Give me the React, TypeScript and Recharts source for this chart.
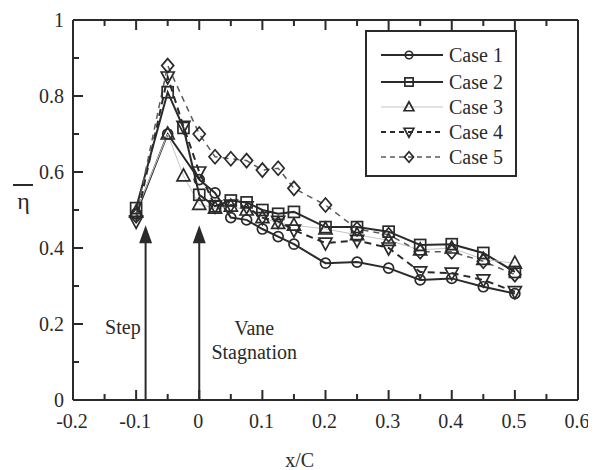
import { LineChart, Line, XAxis, YAxis, Legend, ReferenceLine, ReferenceDot } from 'recharts';

// x/C stations where eta was measured
const xPositions = [-0.1, -0.05, -0.025, 0, 0.025, 0.05, 0.075, 0.1, 0.125, 0.15, 0.2, 0.25, 0.3, 0.35, 0.4, 0.45, 0.5];

// eta-bar for each case (null = no measurement at that station)
const case1 = [0.49, 0.7, null, 0.58, 0.545, 0.48, 0.474, 0.45, 0.43, 0.41, 0.36, 0.363, 0.347, 0.316, 0.32, 0.298, 0.28];
const case2 = [0.505, 0.81, 0.716, 0.54, 0.51, 0.525, 0.52, 0.5, 0.49, 0.495, 0.455, 0.455, 0.443, 0.408, 0.41, 0.387, 0.337];
const case3 = [0.495, 0.7, 0.59, 0.515, 0.505, 0.51, 0.5, 0.48, 0.465, 0.46, 0.45, 0.435, 0.42, 0.395, 0.4, 0.37, 0.36];
const case4 = [0.47, 0.85, 0.72, 0.6, 0.51, 0.513, 0.508, 0.48, 0.47, 0.447, 0.413, 0.42, 0.4, 0.337, 0.334, 0.316, 0.285];
const case5 = [0.485, 0.88, null, 0.7, 0.64, 0.635, 0.63, 0.605, 0.61, 0.557, 0.513, 0.45, 0.435, 0.39, 0.39, 0.365, 0.33];

const caseNames = ['Case 1', 'Case 2', 'Case 3', 'Case 4', 'Case 5'];

const xTicks = [-0.2, -0.15, -0.1, -0.05, 0, 0.05, 0.1, 0.15, 0.2, 0.25, 0.3, 0.35, 0.4, 0.45, 0.5, 0.55, 0.6];
const xTickLabels = ['-0.2', '', '-0.1', '', '0', '', '0.1', '', '0.2', '', '0.3', '', '0.4', '', '0.5', '', '0.6'];
const yTicks = [0, 0.1, 0.2, 0.3, 0.4, 0.5, 0.6, 0.7, 0.8, 0.9, 1];
const yTickLabels = ['0', '', '0.2', '', '0.4', '', '0.6', '', '0.8', '', '1'];

// annotation arrows: x/C location and tip height
const arrowXs = [-0.085, 0];
const arrowTip = 0.46;

const FONT = "'Liberation Serif', Tinos, 'Times New Roman', 'DejaVu Serif', serif";
const INK = '#2a2a2a';
const txt = { fontFamily: FONT, fontSize: 20, fill: INK };

const chartData = xPositions.map((x, i) => ({
  x,
  c1: case1[i],
  c2: case2[i],
  c3: case3[i],
  c4: case4[i],
  c5: case5[i],
}));

type MarkerKind = 'circle' | 'square' | 'up' | 'down' | 'diamond';

function Marker({ kind, cx, cy, s = 1 }: { kind: MarkerKind; cx: number; cy: number; s?: number }) {
  const common = { fill: 'none', stroke: INK, strokeWidth: 1.7 };
  if (kind === 'circle') return <circle cx={cx} cy={cy} r={5 * s} {...common} />;
  if (kind === 'square') return <rect x={cx - 5.5 * s} y={cy - 5.5 * s} width={11 * s} height={11 * s} {...common} />;
  if (kind === 'up')
    return <polygon points={`${cx},${cy - 7 * s} ${cx - 6.5 * s},${cy + 5 * s} ${cx + 6.5 * s},${cy + 5 * s}`} {...common} />;
  if (kind === 'down')
    return <polygon points={`${cx},${cy + 7 * s} ${cx - 6.5 * s},${cy - 5 * s} ${cx + 6.5 * s},${cy - 5 * s}`} {...common} />;
  return <polygon points={`${cx},${cy - 7 * s} ${cx + 6 * s},${cy} ${cx},${cy + 7 * s} ${cx - 6 * s},${cy}`} {...common} />;
}

const makeDot = (kind: MarkerKind) => (p: any) => {
  const key = `${kind}-${p.index}`;
  if (p.cx == null || p.cy == null || p.value == null) return <g key={key} />;
  return <Marker key={key} kind={kind} cx={p.cx} cy={p.cy} />;
};

const seriesStyle = [
  { key: 'c1', kind: 'circle' as MarkerKind, stroke: INK, width: 2, dash: undefined },
  { key: 'c2', kind: 'square' as MarkerKind, stroke: INK, width: 2, dash: undefined },
  { key: 'c3', kind: 'up' as MarkerKind, stroke: '#c4c4c4', width: 1, dash: undefined },
  { key: 'c4', kind: 'down' as MarkerKind, stroke: INK, width: 2, dash: '7 5' },
  { key: 'c5', kind: 'diamond' as MarkerKind, stroke: '#5a5a5a', width: 1.5, dash: '6 5' },
];

const isMajor = (v: number, step: number) => Math.abs(v / step - Math.round(v / step)) < 1e-6;
const findIdx = (arr: number[], v: number) => arr.findIndex((t) => Math.abs(t - v) < 1e-9);

function BottomTick(props: any) {
  const { x, y, payload } = props;
  const i = findIdx(xTicks, payload.value);
  const len = isMajor(payload.value, 0.1) ? 10 : 6;
  return (
    <g>
      <line x1={x} y1={y} x2={x} y2={y - len} stroke={INK} strokeWidth={2} />
      {xTickLabels[i] ? (
        <text x={x - 1} y={y + 28} textAnchor="middle" fontFamily={FONT} style={txt}>
          {xTickLabels[i]}
        </text>
      ) : null}
    </g>
  );
}

function TopTick(props: any) {
  const { x, y, payload } = props;
  const len = isMajor(payload.value, 0.1) ? 10 : 6;
  return <line x1={x} y1={y} x2={x} y2={y + len} stroke={INK} strokeWidth={2} />;
}

function LeftTick(props: any) {
  const { x, y, payload } = props;
  const i = findIdx(yTicks, payload.value);
  const len = isMajor(payload.value, 0.2) ? 10 : 6;
  return (
    <g>
      <line x1={x} y1={y} x2={x + len} y2={y} stroke={INK} strokeWidth={2} />
      {yTickLabels[i] ? (
        <text x={x - 9} y={y + 7} textAnchor="end" fontFamily={FONT} style={txt}>
          {yTickLabels[i]}
        </text>
      ) : null}
    </g>
  );
}

function RightTick(props: any) {
  const { x, y, payload } = props;
  const len = isMajor(payload.value, 0.2) ? 10 : 6;
  return <line x1={x} y1={y} x2={x - len} y2={y} stroke={INK} strokeWidth={2} />;
}

// eta with an overbar, to the left of the y tick labels
function EtaLabel() {
  return (
    <g>
      <line x1={5} y1={177} x2={25} y2={177} stroke={INK} strokeWidth={2} />
      <text x={15.5} y={201} textAnchor="middle" fontFamily={FONT} style={{ ...txt, fontSize: 24 }}>
        η
      </text>
    </g>
  );
}

function XLabel(props: any) {
  const vb = props.viewBox || { x: 0, y: 0, width: 0 };
  return (
    <text x={vb.x + vb.width * 0.449} y={vb.y + 67} textAnchor="middle" fontFamily={FONT} style={txt}>
      x/C
    </text>
  );
}

function LegendBox() {
  const rowsY = [25, 52, 77, 102, 127];
  return (
    <svg width={152} height={147} style={{ display: 'block' }}>
      <rect x={1} y={1} width={150} height={145} fill="#fff" stroke={INK} strokeWidth={2} />
      {seriesStyle.map((s, i) => (
        <g key={s.key}>
          <line x1={16} y1={rowsY[i]} x2={78} y2={rowsY[i]} stroke={s.stroke} strokeWidth={s.width} strokeDasharray={s.dash ? '5 4' : undefined} />
          <Marker kind={s.kind} cx={44} cy={rowsY[i]} s={0.75} />
          <text x={84} y={rowsY[i] + 7} fontFamily={FONT} style={txt}>
            {caseNames[i]}
          </text>
        </g>
      ))}
    </svg>
  );
}

const ArrowHead = (p: any) => (
  <polygon points={`${p.cx},${p.cy} ${p.cx - 6.5},${p.cy + 18} ${p.cx + 6.5},${p.cy + 18}`} fill={INK} />
);

const StepText = (p: any) => (
  <text x={p.cx} y={p.cy + 7} textAnchor="middle" fontFamily={FONT} style={txt}>
    Step
  </text>
);

const VaneText = (p: any) => (
  <g>
    <text x={p.cx} y={p.cy - 5} textAnchor="middle" fontFamily={FONT} style={txt}>
      Vane
    </text>
    <text x={p.cx} y={p.cy + 19} textAnchor="middle" fontFamily={FONT} style={txt}>
      Stagnation
    </text>
  </g>
);

export default function App() {
  return (
    <div style={{ width: 580, height: 462, background: '#fff', fontFamily: FONT }}>
      <LineChart
        width={580}
        height={462}
        data={chartData}
        margin={{ top: 11, right: 9, left: 0, bottom: 0 }}
        style={{ fontFamily: FONT }}
      >
        <XAxis
          dataKey="x"
          type="number"
          domain={[-0.2, 0.6]}
          ticks={xTicks}
          interval={0}
          height={70}
          tickSize={0}
          tickMargin={0}
          tickLine={false}
          axisLine={{ stroke: INK, strokeWidth: 2 }}
          tick={<BottomTick />}
          label={{ content: XLabel }}
        />
        <XAxis
          xAxisId="top"
          orientation="top"
          dataKey="x"
          type="number"
          domain={[-0.2, 0.6]}
          ticks={xTicks}
          interval={0}
          height={1}
          tickSize={0}
          tickMargin={0}
          tickLine={false}
          axisLine={{ stroke: INK, strokeWidth: 2 }}
          tick={<TopTick />}
        />
        <YAxis
          type="number"
          domain={[0, 1]}
          ticks={yTicks}
          interval={0}
          width={65}
          tickSize={0}
          tickMargin={0}
          tickLine={false}
          axisLine={{ stroke: INK, strokeWidth: 2 }}
          tick={<LeftTick />}
          label={{ content: EtaLabel }}
        />
        <YAxis
          yAxisId="right"
          orientation="right"
          type="number"
          domain={[0, 1]}
          ticks={yTicks}
          interval={0}
          width={1}
          tickSize={0}
          tickMargin={0}
          tickLine={false}
          axisLine={{ stroke: INK, strokeWidth: 2 }}
          tick={<RightTick />}
        />

        {arrowXs.map((ax) => (
          <ReferenceLine
            key={`arrow-${ax}`}
            segment={[
              { x: ax, y: 0 },
              { x: ax, y: arrowTip - 0.045 },
            ]}
            stroke={INK}
            strokeWidth={2}
          />
        ))}
        {arrowXs.map((ax) => (
          <ReferenceDot key={`head-${ax}`} x={ax} y={arrowTip} r={0} shape={ArrowHead} />
        ))}
        <ReferenceDot x={-0.121} y={0.192} r={0} shape={StepText} />
        <ReferenceDot x={0.087} y={0.158} r={0} shape={VaneText} />

        {seriesStyle.map((s, i) => (
          <Line
            key={s.key}
            dataKey={s.key}
            name={caseNames[i]}
            type="linear"
            stroke={s.stroke}
            strokeWidth={s.width}
            strokeDasharray={s.dash}
            dot={makeDot(s.kind)}
            activeDot={false}
            connectNulls
            isAnimationActive={false}
          />
        ))}

        <Legend
          layout="vertical"
          align="center"
          verticalAlign="middle"
          content={<LegendBox />}
          wrapperStyle={{ left: 357, top: 22, width: 152, height: 147 }}
        />
      </LineChart>
    </div>
  );
}
